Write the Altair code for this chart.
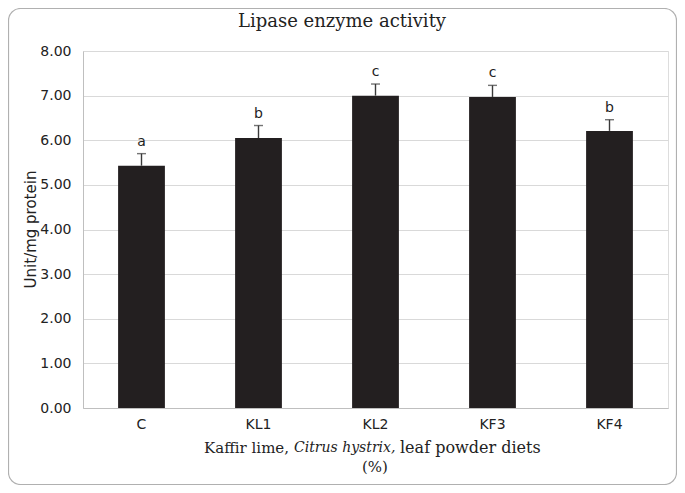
import altair as alt
import pandas as pd

categories = ["C", "KL1", "KL2", "KF3", "KF4"]
means = [5.43, 6.05, 7.00, 6.97, 6.21]
errors = [0.27, 0.28, 0.26, 0.26, 0.25]
letters = ["a", "b", "c", "c", "b"]

df = pd.DataFrame({
    "cat": categories,
    "mean": means,
    "top": [m + e for m, e in zip(means, errors)],
    "letter": letters,
})

W, H = 585, 357
SANS = "DejaVu Sans"
SERIF = "DejaVu Serif"

xenc = alt.X("cat:N", sort=categories, title=None,
             scale=alt.Scale(paddingInner=0.6, paddingOuter=0.3),
             axis=alt.Axis(labelAngle=0, labelFont=SANS, labelFontSize=14,
                           labelColor="#222222", labelPadding=9, ticks=False,
                           domainColor="#bfbfbf", grid=False))
yscale = alt.Scale(domain=[0, 8], nice=False)

base = alt.Chart(df)

bars = base.mark_bar(color="#231f20").encode(
    x=xenc,
    y=alt.Y("mean:Q", scale=yscale, title=None,
            axis=alt.Axis(values=[0, 1, 2, 3, 4, 5, 6, 7, 8], format=".2f",
                          labelFont=SANS, labelFontSize=14, labelColor="#222222",
                          labelPadding=12, ticks=False, gridColor="#d9d9d9",
                          domainColor="#bfbfbf")),
)
err = base.mark_rule(color="#3a3a3a", strokeWidth=1.4).encode(
    x=alt.X("cat:N", sort=categories), y=alt.Y("mean:Q", scale=yscale), y2="top:Q")
cap = base.mark_tick(color="#3a3a3a", size=9, thickness=1.4).encode(
    x=alt.X("cat:N", sort=categories), y=alt.Y("top:Q", scale=yscale))
lab = base.mark_text(font=SANS, fontSize=14, color="#222222", baseline="middle", dy=-12).encode(
    x=alt.X("cat:N", sort=categories), y=alt.Y("top:Q", scale=yscale), text="letter:N")

one = pd.DataFrame({"k": [0]})
border = alt.Chart(one).mark_rect(fill=None, stroke="#b0b0b0", strokeWidth=1.2,
                                  cornerRadius=12).encode(
    x=alt.value(-74.5), x2=alt.value(593.5), y=alt.value(-42.5), y2=alt.value(433.5))

title = alt.Chart(one).mark_text(text="Lipase enzyme activity", font=SERIF, fontSize=18,
                                 color="#222222", align="center", baseline="middle").encode(
    x=alt.value(259), y=alt.value(-29))
ytitle = alt.Chart(one).mark_text(text="Unit/mg protein", font=SANS, fontSize=15,
                                  color="#222222", align="center", baseline="middle",
                                  angle=270).encode(
    x=alt.value(-52), y=alt.value(178.5))
xt1 = alt.Chart(one).mark_text(text="Kaffir lime,", font=SERIF, fontSize=15, color="#222222",
                               align="left", baseline="middle").encode(
    x=alt.value(121), y=alt.value(397))
xt2 = alt.Chart(one).mark_text(text="Citrus hystrix,", font=SERIF, fontSize=14, fontStyle="italic",
                               color="#222222", align="left", baseline="middle").encode(
    x=alt.value(211), y=alt.value(397))
xt3 = alt.Chart(one).mark_text(text="leaf powder diets", font=SERIF, fontSize=16, color="#222222",
                               align="left", baseline="middle").encode(
    x=alt.value(317), y=alt.value(397))
xt4 = alt.Chart(one).mark_text(text="(%)", font=SERIF, fontSize=15, color="#222222",
                               align="center", baseline="middle").encode(
    x=alt.value(292), y=alt.value(416))

chart = alt.layer(bars, err, cap, lab, border, title, ytitle, xt1, xt2, xt3, xt4).properties(
    width=W, height=H,
    autosize=alt.AutoSizeParams(type="none"),
    padding={"left": 75, "top": 43, "right": 9, "bottom": 77},
).configure_view(stroke=None).configure(background="white")

chart.save("out.html", embed_options={"renderer": "svg", "actions": False})
